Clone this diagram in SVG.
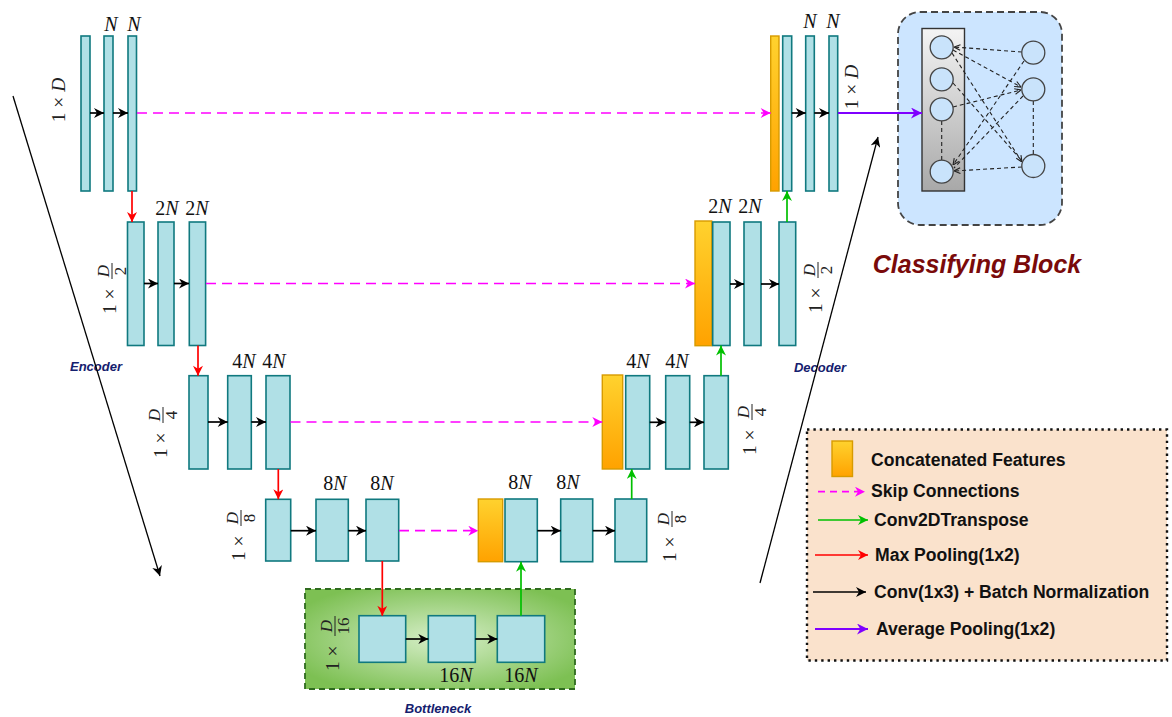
<svg xmlns="http://www.w3.org/2000/svg" width="1172" height="717" viewBox="0 0 1172 717">
<defs>
<style>
.bar{fill:#b0e0e6;stroke:#10797f;stroke-width:1.6}
.cat{fill:url(#gCat);stroke:#d79b00;stroke-width:1.4}
.m{font-family:"Liberation Serif",serif;font-size:20px;fill:#111}
.r{font-family:"Liberation Serif",serif;font-size:19.5px;fill:#222}
.fr{font-family:"Liberation Serif",serif;font-size:17px;fill:#222}
.i{font-style:italic}
.blk{stroke:#000;stroke-width:1.7;fill:none}
.red{stroke:#ff0000;stroke-width:1.7;fill:none}
.grn{stroke:#00c000;stroke-width:1.7;fill:none}
.mag{stroke:#ff00ff;stroke-width:1.7;fill:none;stroke-dasharray:10 6}
.pur{stroke:#7f00ff;stroke-width:2;fill:none}
.nn{stroke:#222;stroke-width:1.1;fill:none;stroke-dasharray:4 3}
.lt{font-family:"Liberation Sans",Arial,sans-serif;font-weight:bold;font-size:17.6px;fill:#111}
.tag{font-family:"Liberation Sans",Arial,sans-serif;font-weight:bold;font-style:italic;font-size:13px;fill:#14206e}
.circ{fill:#c9e3fb;stroke:#444;stroke-width:1.3}
</style>
<linearGradient id="gCat" x1="0" y1="0" x2="0" y2="1"><stop offset="0" stop-color="#ffd22e"/><stop offset="1" stop-color="#ffa200"/></linearGradient>
<linearGradient id="gGray" x1="0" y1="0" x2="0" y2="1"><stop offset="0" stop-color="#f4f4f4"/><stop offset="1" stop-color="#a8a8a8"/></linearGradient>
<radialGradient id="gGreen" cx="0.5" cy="0.5" r="0.6"><stop offset="0" stop-color="#d6eec8"/><stop offset="1" stop-color="#7dc053"/></radialGradient>
<marker id="aB" viewBox="0 0 10 10" refX="10" refY="5" markerWidth="11" markerHeight="10" markerUnits="userSpaceOnUse" orient="auto"><path d="M0,0 L10,5 L0,10 L3,5 z" fill="#000"/></marker>
<marker id="aR" viewBox="0 0 10 10" refX="10" refY="5" markerWidth="11" markerHeight="10" markerUnits="userSpaceOnUse" orient="auto"><path d="M0,0 L10,5 L0,10 L3,5 z" fill="#ff0000"/></marker>
<marker id="aG" viewBox="0 0 10 10" refX="10" refY="5" markerWidth="11" markerHeight="10" markerUnits="userSpaceOnUse" orient="auto"><path d="M0,0 L10,5 L0,10 L3,5 z" fill="#00c000"/></marker>
<marker id="aM" viewBox="0 0 10 10" refX="10" refY="5" markerWidth="11" markerHeight="10" markerUnits="userSpaceOnUse" orient="auto"><path d="M0,0 L10,5 L0,10 L3,5 z" fill="#ff00ff"/></marker>
<marker id="aP" viewBox="0 0 10 10" refX="10" refY="5" markerWidth="12" markerHeight="11" markerUnits="userSpaceOnUse" orient="auto"><path d="M0,0 L10,5 L0,10 L3,5 z" fill="#7f00ff"/></marker>
<marker id="aS" viewBox="0 0 10 10" refX="10" refY="5" markerWidth="7" markerHeight="7" markerUnits="userSpaceOnUse" orient="auto"><path d="M1,1 L10,5 L1,9" fill="none" stroke="#222" stroke-width="1.6"/></marker>
</defs>

<rect width="1172" height="717" fill="#ffffff"/>

<g id="bottleneck-block">
<rect x="305" y="589" width="270" height="100" fill="url(#gGreen)" stroke="#2f6b1f" stroke-width="1.8" stroke-dasharray="6 4"/>
<text class="tag" x="438" y="713" text-anchor="middle">Bottleneck</text>
</g>

<g id="classifying-block">
<rect x="898" y="12" width="164" height="213" rx="22" fill="#cce5ff" stroke="#444" stroke-width="1.8" stroke-dasharray="7 4"/>
<rect x="922" y="28.5" width="42.5" height="162.5" fill="url(#gGray)" stroke="#333" stroke-width="1.4"/>
<line class="nn" x1="941.7" y1="121" x2="941.7" y2="160"/>
<line class="nn" x1="1033.3" y1="101" x2="1033.3" y2="154"/>
<line class="nn" x1="1022" y1="52" x2="954" y2="47" marker-end="url(#aS)"/>
<line class="nn" x1="953" y1="50" x2="1021" y2="87" marker-end="url(#aS)"/>
<line class="nn" x1="952" y1="53" x2="1022" y2="162" marker-end="url(#aS)"/>
<line class="nn" x1="953" y1="83" x2="1022" y2="161"/>
<line class="nn" x1="953" y1="107" x2="1021" y2="90" marker-end="url(#aS)"/>
<line class="nn" x1="1024" y1="61" x2="953" y2="165" marker-end="url(#aS)"/>
<line class="nn" x1="1023" y1="96" x2="954" y2="168"/>
<line class="nn" x1="1022" y1="167" x2="954" y2="171" marker-end="url(#aS)"/>
<circle class="circ" cx="941.7" cy="47.3" r="11.5"/>
<circle class="circ" cx="941.7" cy="79.3" r="11.5"/>
<circle class="circ" cx="941.7" cy="109.3" r="11.5"/>
<circle class="circ" cx="941.7" cy="171.7" r="11.5"/>
<circle class="circ" cx="1033.3" cy="52.7" r="11.5"/>
<circle class="circ" cx="1033.3" cy="89.3" r="11.5"/>
<circle class="circ" cx="1033.3" cy="166" r="11.5"/>
<text x="977" y="273" text-anchor="middle" font-family="Liberation Sans, Arial, sans-serif" font-weight="bold" font-style="italic" font-size="25px" fill="#7a0a0a">Classifying Block</text>
</g>

<g id="enc1">
<rect class="bar" x="81" y="36" width="9" height="155"/>
<rect class="bar" x="104" y="36" width="9" height="155"/>
<rect class="bar" x="128" y="36" width="8.5" height="155"/>
<text class="m i" x="111" y="31" text-anchor="middle">N</text>
<text class="m i" x="134" y="31" text-anchor="middle">N</text>
<text class="r" transform="translate(65,100) rotate(-90)" text-anchor="middle">1 × <tspan class="i">D</tspan></text>
</g>

<g id="enc2">
<rect class="bar" x="127.5" y="222" width="16.5" height="123.5"/>
<rect class="bar" x="158" y="222" width="16" height="123.5"/>
<rect class="bar" x="189.3" y="222" width="16.3" height="123.5"/>
<text class="m" x="167" y="215" text-anchor="middle">2<tspan class="i">N</tspan></text>
<text class="m" x="197" y="215" text-anchor="middle">2<tspan class="i">N</tspan></text>
<g transform="translate(112,283) rotate(-90)"><text class="r" x="-31" y="4">1 ×</text><text class="fr i" x="12" y="-3.5" text-anchor="middle">D</text><line x1="4" y1="0" x2="20" y2="0" stroke="#222" stroke-width="1"/><text class="fr" x="12" y="14" text-anchor="middle">2</text></g>
</g>

<g id="enc3">
<rect class="bar" x="189" y="375.7" width="19" height="93.3"/>
<rect class="bar" x="227.7" y="375.7" width="23.6" height="93.3"/>
<rect class="bar" x="266" y="375.7" width="24" height="93.3"/>
<text class="m" x="244" y="368" text-anchor="middle">4<tspan class="i">N</tspan></text>
<text class="m" x="274" y="368" text-anchor="middle">4<tspan class="i">N</tspan></text>
<g transform="translate(163,427) rotate(-90)"><text class="r" x="-31" y="4">1 ×</text><text class="fr i" x="12" y="-3.5" text-anchor="middle">D</text><line x1="4" y1="0" x2="20" y2="0" stroke="#222" stroke-width="1"/><text class="fr" x="12" y="14" text-anchor="middle">4</text></g>
</g>

<g id="enc4">
<rect class="bar" x="265.7" y="499.3" width="25" height="61.7"/>
<rect class="bar" x="316" y="499.3" width="32.3" height="61.7"/>
<rect class="bar" x="366" y="499.3" width="32.7" height="61.7"/>
<text class="m" x="335" y="490" text-anchor="middle">8<tspan class="i">N</tspan></text>
<text class="m" x="382" y="490" text-anchor="middle">8<tspan class="i">N</tspan></text>
<g transform="translate(241,530) rotate(-90)"><text class="r" x="-31" y="4">1 ×</text><text class="fr i" x="12" y="-3.5" text-anchor="middle">D</text><line x1="4" y1="0" x2="20" y2="0" stroke="#222" stroke-width="1"/><text class="fr" x="12" y="14" text-anchor="middle">8</text></g>
</g>

<g id="bott">
<rect class="bar" x="359" y="615.7" width="46.7" height="46.6"/>
<rect class="bar" x="428.3" y="615.7" width="47" height="46.6"/>
<rect class="bar" x="497.3" y="615.7" width="47.4" height="46.6"/>
<text class="m" x="456" y="682" text-anchor="middle">16<tspan class="i">N</tspan></text>
<text class="m" x="521" y="682" text-anchor="middle">16<tspan class="i">N</tspan></text>
<g transform="translate(335,638) rotate(-90)"><text class="r" x="-33" y="4">1 ×</text><text class="fr i" x="12" y="-3.5" text-anchor="middle">D</text><line x1="2" y1="0" x2="22" y2="0" stroke="#222" stroke-width="1"/><text class="fr" x="12" y="14" text-anchor="middle">16</text></g>
</g>

<g id="dec4">
<rect class="cat" x="478.3" y="499" width="24.4" height="62.7"/>
<rect class="bar" x="505" y="499" width="32.3" height="62.7"/>
<rect class="bar" x="560.7" y="499" width="32" height="62.7"/>
<rect class="bar" x="615" y="499" width="31.7" height="62.7"/>
<text class="m" x="520" y="489" text-anchor="middle">8<tspan class="i">N</tspan></text>
<text class="m" x="568" y="489" text-anchor="middle">8<tspan class="i">N</tspan></text>
<g transform="translate(672,531) rotate(-90)"><text class="r" x="-31" y="4">1 ×</text><text class="fr i" x="12" y="-3.5" text-anchor="middle">D</text><line x1="4" y1="0" x2="20" y2="0" stroke="#222" stroke-width="1"/><text class="fr" x="12" y="14" text-anchor="middle">8</text></g>
</g>

<g id="dec3">
<rect class="cat" x="602.3" y="375" width="20.4" height="94"/>
<rect class="bar" x="625.7" y="375.7" width="24" height="93.3"/>
<rect class="bar" x="665.7" y="375.7" width="24" height="93.3"/>
<rect class="bar" x="704" y="375.7" width="24.3" height="93.3"/>
<text class="m" x="638" y="368" text-anchor="middle">4<tspan class="i">N</tspan></text>
<text class="m" x="677" y="368" text-anchor="middle">4<tspan class="i">N</tspan></text>
<g transform="translate(752,424) rotate(-90)"><text class="r" x="-31" y="4">1 ×</text><text class="fr i" x="12" y="-3.5" text-anchor="middle">D</text><line x1="4" y1="0" x2="20" y2="0" stroke="#222" stroke-width="1"/><text class="fr" x="12" y="14" text-anchor="middle">4</text></g>
</g>

<g id="dec2">
<rect class="cat" x="695" y="221" width="16.7" height="124.7"/>
<rect class="bar" x="712.7" y="222" width="17.3" height="123.5"/>
<rect class="bar" x="744" y="222" width="17" height="123.5"/>
<rect class="bar" x="779" y="222" width="16.7" height="123.5"/>
<text class="m" x="720" y="213" text-anchor="middle">2<tspan class="i">N</tspan></text>
<text class="m" x="750" y="213" text-anchor="middle">2<tspan class="i">N</tspan></text>
<g transform="translate(818,282) rotate(-90)"><text class="r" x="-31" y="4">1 ×</text><text class="fr i" x="12" y="-3.5" text-anchor="middle">D</text><line x1="4" y1="0" x2="20" y2="0" stroke="#222" stroke-width="1"/><text class="fr" x="12" y="14" text-anchor="middle">2</text></g>
</g>

<g id="dec1">
<rect class="cat" x="770.7" y="36" width="8.3" height="155"/>
<rect class="bar" x="782.7" y="36" width="9" height="155"/>
<rect class="bar" x="805.7" y="36" width="8.6" height="155"/>
<rect class="bar" x="829" y="36" width="8.7" height="155"/>
<text class="m i" x="810" y="28" text-anchor="middle">N</text>
<text class="m i" x="833" y="28" text-anchor="middle">N</text>
<text class="r" transform="translate(858,87) rotate(-90)" text-anchor="middle">1 × <tspan class="i">D</tspan></text>
</g>

<g id="labels">
<text class="tag" x="96" y="371" text-anchor="middle">Encoder</text>
<text class="tag" x="820" y="372" text-anchor="middle">Decoder</text>
</g>

<g id="connectors">
<line class="blk" x1="90" y1="113" x2="104" y2="113" marker-end="url(#aB)"/>
<line class="blk" x1="113" y1="113" x2="128" y2="113" marker-end="url(#aB)"/>
<line class="blk" x1="144" y1="283.5" x2="158" y2="283.5" marker-end="url(#aB)"/>
<line class="blk" x1="174" y1="283.5" x2="189" y2="283.5" marker-end="url(#aB)"/>
<line class="blk" x1="208" y1="422" x2="227.7" y2="422" marker-end="url(#aB)"/>
<line class="blk" x1="251.3" y1="422" x2="266" y2="422" marker-end="url(#aB)"/>
<line class="blk" x1="290.7" y1="530.7" x2="316" y2="530.7" marker-end="url(#aB)"/>
<line class="blk" x1="348.3" y1="530.7" x2="366" y2="530.7" marker-end="url(#aB)"/>
<line class="blk" x1="405.7" y1="639" x2="428.3" y2="639" marker-end="url(#aB)"/>
<line class="blk" x1="475.3" y1="639" x2="497.3" y2="639" marker-end="url(#aB)"/>
<line class="blk" x1="537.3" y1="530.7" x2="560.7" y2="530.7" marker-end="url(#aB)"/>
<line class="blk" x1="592.7" y1="530.7" x2="615" y2="530.7" marker-end="url(#aB)"/>
<line class="blk" x1="649.7" y1="422.3" x2="665.7" y2="422.3" marker-end="url(#aB)"/>
<line class="blk" x1="689.7" y1="422.3" x2="704" y2="422.3" marker-end="url(#aB)"/>
<line class="blk" x1="730" y1="284" x2="744" y2="284" marker-end="url(#aB)"/>
<line class="blk" x1="761" y1="284" x2="779" y2="284" marker-end="url(#aB)"/>
<line class="blk" x1="791.7" y1="113" x2="805.7" y2="113" marker-end="url(#aB)"/>
<line class="blk" x1="814.3" y1="113" x2="829" y2="113" marker-end="url(#aB)"/>
<line class="red" x1="132" y1="191" x2="132" y2="222" marker-end="url(#aR)"/>
<line class="red" x1="198" y1="345.5" x2="198" y2="375.7" marker-end="url(#aR)"/>
<line class="red" x1="278.3" y1="469" x2="278.3" y2="499.3" marker-end="url(#aR)"/>
<line class="red" x1="382.3" y1="561" x2="382.3" y2="615.7" marker-end="url(#aR)"/>
<line class="grn" x1="521" y1="615.7" x2="521" y2="561.7" marker-end="url(#aG)"/>
<line class="grn" x1="631.7" y1="499" x2="631.7" y2="469" marker-end="url(#aG)"/>
<line class="grn" x1="721" y1="375.7" x2="721" y2="345.5" marker-end="url(#aG)"/>
<line class="grn" x1="787" y1="222" x2="787" y2="191" marker-end="url(#aG)"/>
<line class="mag" x1="137" y1="113" x2="770.7" y2="113" marker-end="url(#aM)"/>
<line class="mag" x1="206" y1="283.5" x2="695" y2="283.5" marker-end="url(#aM)"/>
<line class="mag" x1="290.5" y1="422" x2="602.3" y2="422" marker-end="url(#aM)"/>
<line class="mag" x1="399" y1="530.7" x2="478.3" y2="530.7" marker-end="url(#aM)"/>
<line class="pur" x1="838" y1="113" x2="922" y2="113" marker-end="url(#aP)"/>
<line stroke="#000" stroke-width="1.3" x1="13" y1="96" x2="160" y2="576" marker-end="url(#aB)"/>
<line stroke="#000" stroke-width="1.3" x1="760" y1="583" x2="878" y2="137" marker-end="url(#aB)"/>
</g>

<g id="legend">
<rect x="807" y="429.5" width="360" height="231" fill="#fae2cc" stroke="#111" stroke-width="2.4" stroke-dasharray="2.4 4"/>
<rect class="cat" x="832" y="441" width="20.5" height="35.5"/>
<text class="lt" x="871" y="466">Concatenated Features</text>
<line class="mag" x1="818" y1="491.7" x2="865" y2="491.7" marker-end="url(#aM)" style="stroke-dasharray:7 5"/>
<text class="lt" x="871" y="497">Skip Connections</text>
<line class="grn" x1="818" y1="520" x2="868" y2="520" marker-end="url(#aG)"/>
<text class="lt" x="874" y="526">Conv2DTranspose</text>
<line class="red" x1="815" y1="555" x2="868" y2="555" marker-end="url(#aR)"/>
<text class="lt" x="875" y="561">Max Pooling(1x2)</text>
<line class="blk" x1="813" y1="592" x2="866" y2="592" marker-end="url(#aB)"/>
<text class="lt" x="874" y="598">Conv(1x3) + Batch Normalization</text>
<line class="pur" x1="815" y1="629" x2="868" y2="629" marker-end="url(#aP)"/>
<text class="lt" x="876" y="635">Average Pooling(1x2)</text>
</g>
</svg>
